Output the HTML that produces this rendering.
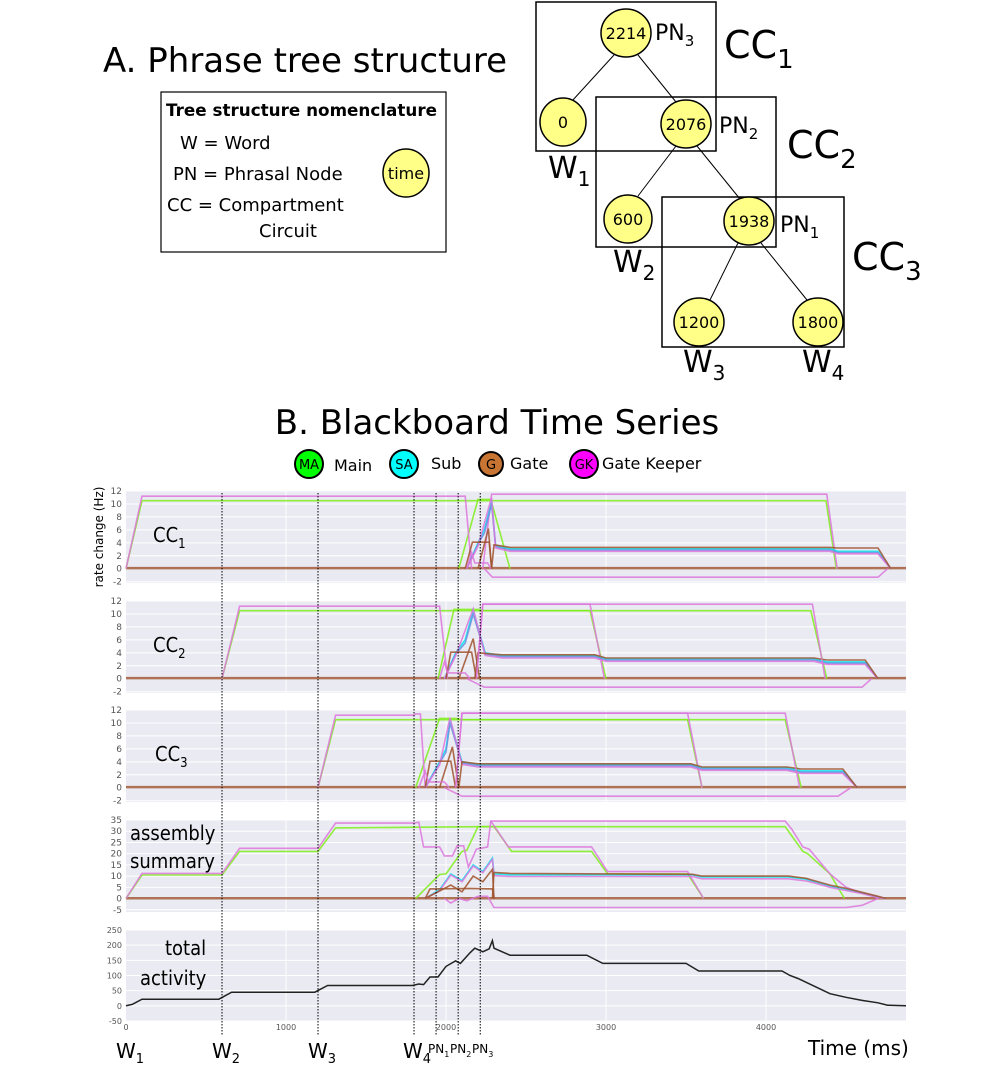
<!DOCTYPE html>
<html><head><meta charset="utf-8">
<style>
html,body{margin:0;padding:0;background:#fff;}
svg{display:block;font-family:"DejaVu Sans","Liberation Sans",sans-serif;}
</style></head>
<body>
<svg id="fig" width="1007" height="1087" viewBox="0 0 1007 1087" xmlns="http://www.w3.org/2000/svg">
<text x="103" y="72" font-size="34">A. Phrase tree structure</text>
<g>
<rect x="161" y="92" width="285" height="160" fill="#fff" stroke="#000" stroke-width="1.2"/>
<text x="166" y="116" font-size="17" font-weight="bold" textLength="271" lengthAdjust="spacingAndGlyphs">Tree structure nomenclature</text>
<text x="180" y="149" font-size="18">W = Word</text>
<text x="173" y="180" font-size="18">PN = Phrasal Node</text>
<text x="167" y="211" font-size="18">CC = Compartment</text>
<text x="259" y="237" font-size="18">Circuit</text>
<ellipse cx="406" cy="173" rx="23" ry="24" fill="#ffff88" stroke="#000" stroke-width="1.5"/>
<text x="406" y="179" font-size="16" text-anchor="middle">time</text>
</g>
<g fill="none" stroke="#000" stroke-width="1">
<line x1="614" y1="55" x2="572" y2="101"/><line x1="638" y1="55" x2="676" y2="102"/>
<line x1="676" y1="146" x2="638" y2="196"/><line x1="697" y1="146" x2="740" y2="199"/>
<line x1="738" y1="243" x2="710" y2="300"/><line x1="761" y1="243" x2="807" y2="300"/>
<rect x="536" y="2" width="180" height="149" stroke-width="1.5"/>
<rect x="596" y="97" width="180" height="150" stroke-width="1.5"/>
<rect x="662" y="197" width="182" height="150" stroke-width="1.5"/>
</g>
<g font-size="16" text-anchor="middle">
<ellipse cx="626" cy="33" rx="25" ry="24" fill="#ffff88" stroke="#000" stroke-width="1.5"/><text x="626" y="39">2214</text>
<ellipse cx="563" cy="122" rx="23" ry="24" fill="#ffff88" stroke="#000" stroke-width="1.5"/><text x="563" y="128">0</text>
<ellipse cx="686" cy="124" rx="25" ry="24" fill="#ffff88" stroke="#000" stroke-width="1.5"/><text x="686" y="130">2076</text>
<ellipse cx="628" cy="219" rx="24" ry="24" fill="#ffff88" stroke="#000" stroke-width="1.5"/><text x="628" y="225">600</text>
<ellipse cx="749" cy="221" rx="25" ry="24" fill="#ffff88" stroke="#000" stroke-width="1.5"/><text x="749" y="227">1938</text>
<ellipse cx="699" cy="322" rx="25" ry="24" fill="#ffff88" stroke="#000" stroke-width="1.5"/><text x="699" y="328">1200</text>
<ellipse cx="818" cy="322" rx="25" ry="24" fill="#ffff88" stroke="#000" stroke-width="1.5"/><text x="818" y="328">1800</text>
</g>
<g>
<text x="655" y="40" font-size="22">PN<tspan font-size="15" dy="6">3</tspan></text>
<text x="724" y="58" font-size="38">CC<tspan font-size="26" dy="10">1</tspan></text>
<text x="548" y="178" font-size="30">W<tspan font-size="20" dy="8">1</tspan></text>
<text x="719" y="133" font-size="22">PN<tspan font-size="15" dy="6">2</tspan></text>
<text x="787" y="158" font-size="38">CC<tspan font-size="26" dy="10">2</tspan></text>
<text x="613" y="272" font-size="30">W<tspan font-size="20" dy="8">2</tspan></text>
<text x="780" y="232" font-size="22">PN<tspan font-size="15" dy="6">1</tspan></text>
<text x="852" y="270" font-size="38">CC<tspan font-size="26" dy="10">3</tspan></text>
<text x="683" y="372" font-size="30">W<tspan font-size="20" dy="8">3</tspan></text>
<text x="802" y="372" font-size="30">W<tspan font-size="20" dy="8">4</tspan></text>
</g>
<text x="497" y="434" font-size="34" text-anchor="middle">B. Blackboard Time Series</text>
<g font-size="16">
<g><circle cx="309" cy="464" r="14" fill="#00ff00" stroke="#000" stroke-width="2"/><text x="309" y="469" font-size="13" text-anchor="middle">MA</text><text x="334" y="471">Main</text></g>
<g><circle cx="404" cy="464" r="14" fill="#00ffff" stroke="#000" stroke-width="2"/><text x="404" y="469" font-size="13" text-anchor="middle">SA</text><text x="431" y="469">Sub</text></g>
<g><circle cx="491" cy="464" r="12" fill="#c87533" stroke="#000" stroke-width="2"/><text x="491" y="469" font-size="13" text-anchor="middle">G</text><text x="510" y="469">Gate</text></g>
<g><circle cx="584" cy="464" r="14" fill="#ff00ff" stroke="#000" stroke-width="2"/><text x="584" y="469" font-size="13" text-anchor="middle">GK</text><text x="602" y="469">Gate Keeper</text></g>
</g>
<text transform="translate(103,537) rotate(-90)" font-size="12" text-anchor="middle">rate change (Hz)</text>
<g id="panels"></g>
<g id="vlines"></g>
<g>
<text x="116" y="1058" font-size="20">W<tspan font-size="13" dy="5">1</tspan></text>
<text x="212" y="1058" font-size="20">W<tspan font-size="13" dy="5">2</tspan></text>
<text x="308" y="1058" font-size="20">W<tspan font-size="13" dy="5">3</tspan></text>
<text x="403" y="1058" font-size="20">W<tspan font-size="13" dy="5">4</tspan></text>
<text x="428" y="1053" font-size="12">PN<tspan font-size="8" dy="4">1</tspan></text>
<text x="450" y="1053" font-size="12">PN<tspan font-size="8" dy="4">2</tspan></text>
<text x="472" y="1053" font-size="12">PN<tspan font-size="8" dy="4">3</tspan></text>
<text x="808" y="1055" font-size="20">Time (ms)</text>
</g>
</svg>
<script>
const xTicks=[0,1000,2000,3000,4000];
const ccTicks=[-2,0,2,4,6,8,10,12];
const asmTicks=[-5,0,5,10,15,20,25,30,35];
const totTicks=[-50,0,50,100,150,200,250];
const eventTimes=[600,1200,1800,1938,2076,2214];

const c1GreenA=[[0,0],[100,10.5],[4375,10.5],[4440,0]];
const c1GreenB=[[2080,0],[2200,10.7],[2280,10.7],[2400,0]];
const c1PinkA=[[0,0],[100,11.2],[2120,11.2],[2160,0]];
const c1PinkB=[[2230,0],[2285,11.5],[4380,11.5],[4445,0]];
const c1Cyan=[[2130,0],[2200,4],[2240,6],[2285,10.5],[2310,3.6],[2400,3.1],[4400,3.1],[4450,2.7],[4700,2.7],[4780,0]];
const c1Blue=[[2130,0],[2200,3.8],[2240,5.5],[2285,10],[2310,3.4],[2400,2.9],[4400,2.9],[4450,2.5],[4700,2.5],[4780,0]];
const c1PinkMid=[[2130,0],[2200,3.5],[2285,11],[2310,3.2],[2400,2.7],[4400,2.7],[4450,2.3],[4700,2.3],[4780,0]];
const c1BrownMid=[[2285,0],[2300,3.7],[2400,3.3],[4400,3.3],[4450,3.2],[4700,3.2],[4780,0]];
const c1BrownGate=[[2120,0],[2165,4.1],[2270,4.1],[2285,0]];
const c1BrownPeak=[[2200,0],[2265,6.2],[2285,0]];
const c1PinkBump=[[2130,0],[2160,2.5],[2180,0.9],[2260,0.9],[2280,0]];
const c1PinkNeg=[[2240,0],[2290,-1.3],[4700,-1.3],[4760,0]];

const c2GreenA=[[600,0],[710,10.5],[2900,10.5],[3000,0]];
const c2GreenB=[[1950,0],[2050,10.7],[2200,10.7],[2240,10.5],[4280,10.5],[4380,0]];
const c2PinkA=[[600,0],[710,11.2],[1960,11.2],[2010,0]];
const c2PinkB=[[2190,0],[2230,11.5],[2900,11.5],[2990,0]];
const c2PinkC=[[2190,0],[2230,11.5],[4290,11.5],[4370,0]];
const c2Cyan=[[1990,0],[2060,4],[2120,6],[2170,10.5],[2245,4],[2350,3.6],[2930,3.6],[3000,3.1],[4300,3.1],[4380,2.6],[4620,2.6],[4700,0]];
const c2Blue=[[1990,0],[2060,3.8],[2120,5.5],[2170,10],[2245,3.8],[2350,3.4],[2930,3.4],[3000,2.9],[4300,2.9],[4380,2.4],[4620,2.4],[4700,0]];
const c2PinkMid=[[1990,0],[2060,3.5],[2170,10.8],[2245,3.6],[2350,3.2],[2930,3.2],[3000,2.7],[4300,2.7],[4380,2.2],[4620,2.2],[4700,0]];
const c2BrownMid=[[2180,0],[2200,4],[2350,3.7],[2930,3.7],[3000,3.2],[4300,3.2],[4380,2.9],[4620,2.9],[4700,0]];
const c2BrownGate=[[2000,0],[2030,4.1],[2160,4.1],[2190,0]];
const c2BrownPeak=[[2080,0],[2170,6.2],[2210,0]];
const c2PinkBump=[[1960,0],[1990,2.6],[2010,0.9],[2120,0.9],[2150,0]];
const c2PinkNeg=[[2130,0],[2240,-1.3],[4600,-1.3],[4660,0]];

const c3GreenA=[[1200,0],[1310,10.5],[3510,10.5],[3600,0]];
const c3GreenB=[[1810,0],[1960,10.7],[2060,10.7],[2100,10.5],[4120,10.5],[4220,0]];
const c3PinkA=[[1200,0],[1310,11.2],[1800,11.2],[1810,11.4],[1840,11.4],[1870,0]];
const c3PinkB=[[2060,0],[2100,11.5],[3510,11.5],[3600,0]];
const c3PinkC=[[2060,0],[2100,11.5],[4120,11.5],[4210,0]];
const c3Cyan=[[1870,0],[1960,4],[2000,6],[2025,10.5],[2100,4],[2200,3.6],[3530,3.6],[3600,3.1],[4130,3.1],[4220,2.6],[4480,2.6],[4570,0]];
const c3Blue=[[1870,0],[1960,3.8],[2000,5.5],[2025,10],[2100,3.8],[2200,3.4],[3530,3.4],[3600,2.9],[4130,2.9],[4220,2.4],[4480,2.4],[4570,0]];
const c3PinkMid=[[1870,0],[1960,3.5],[2025,10.8],[2100,3.6],[2200,3.2],[3530,3.2],[3600,2.7],[4130,2.7],[4220,2.2],[4480,2.2],[4570,0]];
const c3BrownMid=[[2080,0],[2100,4],[2200,3.7],[3530,3.7],[3600,3.2],[4130,3.2],[4220,2.9],[4480,2.9],[4570,0]];
const c3BrownGate=[[1870,0],[1900,4.1],[2030,4.1],[2060,0]];
const c3BrownPeak=[[1960,0],[2040,6.3],[2080,0]];
const c3PinkBump=[[1830,0],[1870,2.6],[1890,0.9],[1990,0.9],[2020,0]];
const c3PinkNeg=[[1990,0],[2100,-1.3],[4450,-1.3],[4530,0]];

const aGreenA=[[0,0],[100,10.5],[600,10.5],[710,21],[1200,21],[1310,31.5],[2200,32],[4120,32],[4230,21],[4260,20],[4400,11],[4490,0]];
const aGreenB=[[1810,0],[1960,10.7],[2000,11],[2100,21],[2130,21.5],[2200,32],[2300,32],[2410,21],[2910,21],[3010,11],[3510,11],[3610,0]];
const aPinkA=[[0,0],[100,11.2],[600,11.2],[710,22.4],[1200,22.4],[1310,33.6],[1800,33.6],[1830,34],[1860,23],[1960,23],[1990,19],[2040,19],[2070,23.5],[2110,23.5],[2140,14],[2190,22],[2260,23],[2280,34.5],[4120,34.5],[4160,31],[4230,23],[4270,22],[4400,11],[4500,5],[4600,2.5],[4750,0]];
const aPinkB=[[2280,34.5],[2390,23],[2910,23],[3010,12],[3510,12],[3610,0]];
const aCyan=[[1870,0],[1960,4],[2030,11],[2100,8],[2170,15],[2230,12],[2290,18],[2300,11],[2400,10.6],[3540,10.6],[3600,9.6],[4140,9.6],[4250,8.6],[4300,7.5],[4400,5.5],[4500,4],[4600,2.5],[4700,0.5],[4750,0]];
const aPinkMid=[[1870,0],[1960,3.5],[2030,10.5],[2100,7.5],[2170,14.5],[2230,11.5],[2290,17.5],[2300,10.2],[2400,9.8],[3540,9.8],[3600,8.8],[4140,8.8],[4250,7.8],[4300,7],[4400,5],[4500,3.6],[4600,2.2],[4700,0.4],[4750,0]];
const aBrownMid=[[2290,0],[2300,11.6],[2400,11.2],[3540,10.8],[3600,10],[4140,10],[4250,9],[4300,8],[4400,6],[4500,4.5],[4600,2.8],[4700,1],[4750,0]];
const aBrownGate=[[1870,0],[1900,4.3],[2150,4.5],[2290,4.3],[2300,0]];
const aBrownPeak=[[1870,0],[2030,6],[2100,3],[2170,10],[2230,7.5],[2290,13],[2300,0]];
const aPinkNeg=[[1990,0],[2030,-2],[2080,0],[2130,-1],[2200,1],[2260,1],[2300,-4],[4500,-4],[4600,-3],[4700,0]];

const totalActivity=[[0,0],[40,5],[100,22],[580,22],[660,45],[1180,45],[1260,67],[1790,67],[1830,72],[1860,70],[1900,95],[1950,95],[2000,130],[2060,148],[2090,140],[2150,175],[2180,190],[2230,178],[2270,188],[2290,215],[2300,190],[2400,167],[2880,167],[2980,140],[3500,140],[3580,115],[4100,115],[4150,100],[4200,90],[4300,65],[4400,40],[4500,28],[4600,18],[4700,10],[4760,2],[4875,0]];

const NS='http://www.w3.org/2000/svg';
const T0=126, PX=0.16, TMAX=4875;
const xs=t=>T0+t*PX;
const GREEN='#7fee1a', PINK='#dd77dd', CYAN='#00e8f0', BLUE='#6a8fe0', BROWN='#a0522d';
function mk(tag,attrs,parent){const e=document.createElementNS(NS,tag);for(const k in attrs)e.setAttribute(k,attrs[k]);parent.appendChild(e);return e;}
const panelsG=document.getElementById('panels');

function panel(name,top,h,ymin,ymax,ticks,tickFs,series,label,baseline){
  const g=mk('g',{},panelsG);
  
  
  const ys=v=>top+(ymax-v)/(ymax-ymin)*h;
  const bg=mk('rect',{x:T0,y:top,width:xs(TMAX)-T0,height:h,fill:'#eaeaf2'},g);
  
  
  ticks.forEach(v=>{
    mk('line',{x1:T0,x2:xs(TMAX),y1:ys(v),y2:ys(v),stroke:'#fff','stroke-width':1},g);
    const tl=mk('text',{x:T0-4,y:ys(v)+3,'font-size':tickFs,'text-anchor':'end',fill:'#555'},g);
    tl.textContent=v;
    
    
  });
  xTicks.forEach(t=>{if(t>0)mk('line',{x1:xs(t),x2:xs(t),y1:top,y2:top+h,stroke:'#fff','stroke-width':1},g);});
  if(baseline)mk('line',{x1:T0,x2:xs(TMAX),y1:ys(0.1),y2:ys(0.1),stroke:BROWN,'stroke-width':2.5,opacity:0.8},g);
  series.forEach(s=>{
    const pts=s.data.map(p=>xs(p[0]).toFixed(1)+','+ys(p[1]).toFixed(1)).join(' ');
    const pl=mk('polyline',{points:pts,fill:'none',stroke:s.color,'stroke-width':s.w||1.6,opacity:s.o||0.85,'stroke-linejoin':'miter'},g);
    
    
  });
  if(label){const lg=mk('g',{},g);lg.innerHTML=label;
    
    }
  return g;
}
function ccSeries(p,GA,GB,PA,PB,PC,Cy,Bl,PM,BM,BG,BP,PBu,PN){
  const s=[
    {name:p+'-green-a',data:GA,color:GREEN},{name:p+'-green-b',data:GB,color:GREEN},
    {name:p+'-pink-a',data:PA,color:PINK},{name:p+'-pink-b',data:PB,color:PINK},
    {name:p+'-cyan',data:Cy,color:CYAN},{name:p+'-blue',data:Bl,color:BLUE},
    {name:p+'-pink-mid',data:PM,color:PINK},{name:p+'-brown-mid',data:BM,color:BROWN},
    {name:p+'-brown-gate',data:BG,color:BROWN},{name:p+'-brown-peak',data:BP,color:BROWN},
    {name:p+'-pink-bump',data:PBu,color:PINK},{name:p+'-pink-neg',data:PN,color:PINK}];
  if(PC)s.push({name:p+'-pink-c',data:PC,color:PINK});
  return s;
}
const lab=(x,y,t,sub)=>`<text x="${x}" y="${y}" font-size="20" font-family="Liberation Sans Narrow, DejaVu Sans Condensed, sans-serif">${t}${sub?`<tspan font-size="13" dy="6">${sub}</tspan>`:''}</text>`;
panel('panel-cc1',491,92,-2.2,12,ccTicks,9,ccSeries('cc1',c1GreenA,c1GreenB,c1PinkA,c1PinkB,null,c1Cyan,c1Blue,c1PinkMid,c1BrownMid,c1BrownGate,c1BrownPeak,c1PinkBump,c1PinkNeg),lab(153,542,'CC','1'),true);
panel('panel-cc2',601,92,-2.2,12,ccTicks,9,ccSeries('cc2',c2GreenA,c2GreenB,c2PinkA,c2PinkB,c2PinkC,c2Cyan,c2Blue,c2PinkMid,c2BrownMid,c2BrownGate,c2BrownPeak,c2PinkBump,c2PinkNeg),lab(153,652,'CC','2'),true);
panel('panel-cc3',710,92,-2.2,12,ccTicks,9,ccSeries('cc3',c3GreenA,c3GreenB,c3PinkA,c3PinkB,c3PinkC,c3Cyan,c3Blue,c3PinkMid,c3BrownMid,c3BrownGate,c3BrownPeak,c3PinkBump,c3PinkNeg),lab(155,761,'CC','3'),true);
panel('panel-assembly',820,92,-6,35,asmTicks,9,[
  {name:'asm-green-a',data:aGreenA,color:GREEN},{name:'asm-green-b',data:aGreenB,color:GREEN},
  {name:'asm-pink-a',data:aPinkA,color:PINK},{name:'asm-pink-b',data:aPinkB,color:PINK},
  {name:'asm-cyan',data:aCyan,color:CYAN},{name:'asm-pink-mid',data:aPinkMid,color:PINK},
  {name:'asm-brown-mid',data:aBrownMid,color:BROWN},{name:'asm-brown-gate',data:aBrownGate,color:BROWN},
  {name:'asm-brown-peak',data:aBrownPeak,color:BROWN},{name:'asm-pink-neg',data:aPinkNeg,color:PINK}],
  lab(130,840,'assembly')+lab(130,868,'summary'),true);
panel('panel-total',930,91,-50,250,totTicks,8,[{name:'total-activity-line',data:totalActivity,color:'#222',w:1.5,o:1}],
  lab(165,955,'total')+lab(140,985,'activity'),false);
xTicks.forEach(t=>{
  const tl=mk('text',{x:xs(t),y:1030,'font-size':8,'text-anchor':'middle',fill:'#555'},panelsG);
  tl.textContent=t;
  
  
});
const vl=document.getElementById('vlines');
eventTimes.forEach(t=>{
  const l=mk('line',{x1:xs(t),x2:xs(t),y1:493,y2:1036,stroke:'#000','stroke-width':1,'stroke-dasharray':'1.5,1.5'},vl);
  
  
});
</script>
</body></html>
